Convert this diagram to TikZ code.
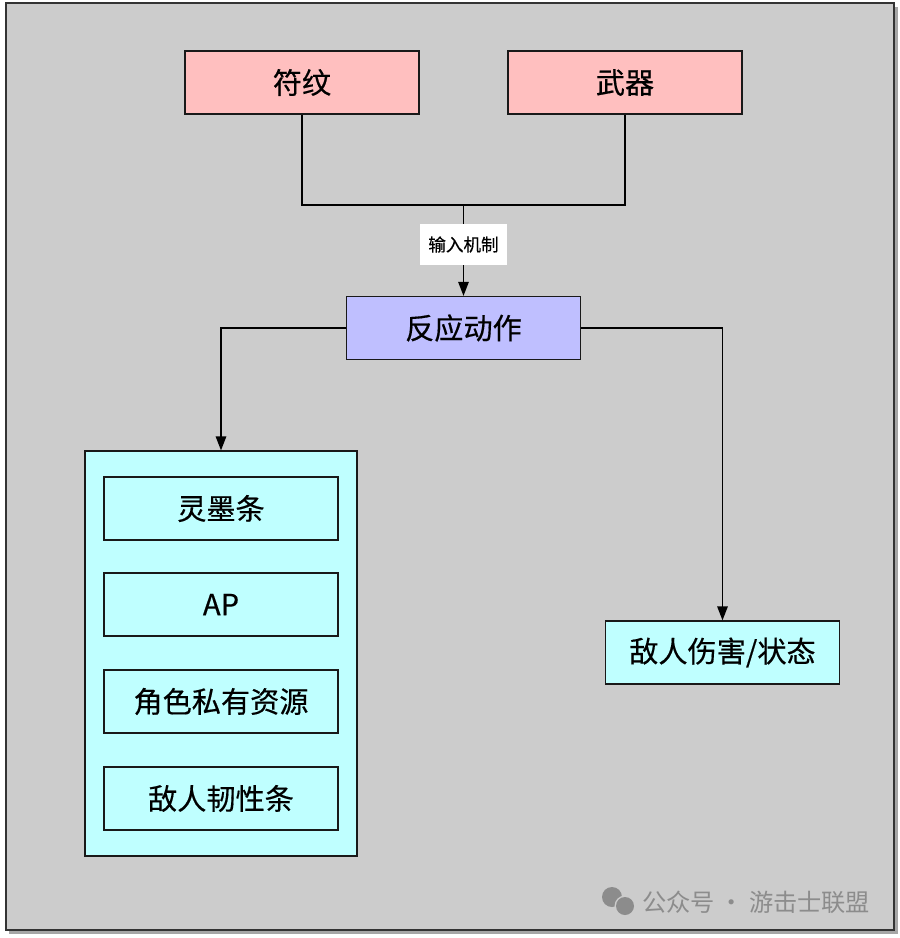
\documentclass[tikz,border=0pt]{standalone}
\usepackage{fontspec}
\setmainfont{Noto Sans CJK SC}[FakeBold=0.4]
\newfontfamily\markfont{Noto Sans CJK SC}
\usetikzlibrary{arrows.meta}
\usetikzlibrary{calc}
\definecolor{pagegray}{HTML}{CCCCCC}
\definecolor{pinkbox}{HTML}{FFBFBF}
\definecolor{bluebox}{HTML}{BFBFFF}
\definecolor{cyanbox}{HTML}{BFFFFF}
\definecolor{markgray}{HTML}{8C8C8C}
\tikzset{
  box/.style={draw=black!90, line width=0.75pt, inner sep=0pt, minimum width=4.68cm, minimum height=1.26cm, font=\fontsize{16.6}{18}\selectfont},
  link/.style={line width=0.8pt, draw=black},
  tip/.style={link, -{Triangle[length=8pt,width=6pt]}}
}

\begin{document}
\begin{tikzpicture}[x=0.02cm,y=-0.02cm]
\useasboundingbox (0,0) rectangle (900,938);
\fill[black!35] (9,7) rectangle (898,934);
\draw[line width=1.1pt, draw=black!80, fill=pagegray] (6,3) rectangle (894,930);
\node[box, fill=pinkbox] (rune) at (302,82.5) {符纹};
\node[box, fill=pinkbox] (weapon) at (625,82.5) {武器};
\node[box, fill=bluebox] (react) at (463.5,328) {反应动作};
\coordinate (join) at (463.5,205);
\draw[link] (rune.south) |- (join) -| (weapon.south);
\draw[tip] (join) -- (react.north);
\node[fill=white, inner sep=0pt, minimum width=1.76cm, minimum height=0.82cm, font=\fontsize{10}{12}\selectfont] (input) at (463.5,244.5) {输入机制};
\node[box, fill=cyanbox, minimum width=5.44cm, minimum height=8.1cm] (res) at (221,653.5) {};
\foreach \name/\y/\txt in {ink/508.5/灵墨条, ap/604.5/AP, own/701.5/角色私有资源, tough/798.5/敌人韧性条}
  \node[box, fill=cyanbox] (\name) at (221,\y) {\txt};
\node[box, fill=cyanbox] (dmg) at (722.5,652.5) {敌人伤害/状态};
\draw[tip] (react.west) -| (res.north);
\draw[tip] (react.east) -| (dmg.north);
% watermark
\fill[markgray] (612,897) circle (10);
\fill[pagegray] (625,906) circle (10.5);
\fill[markgray] (625,906) circle (9);
\node[anchor=west, text=markgray, inner sep=0pt, font=\markfont\fontsize{13.8}{15}\selectfont] (mark) at (642,902) {公众号\hspace{0.2em}·\hspace{0.2em}游击士联盟};
\end{tikzpicture}
\end{document}
